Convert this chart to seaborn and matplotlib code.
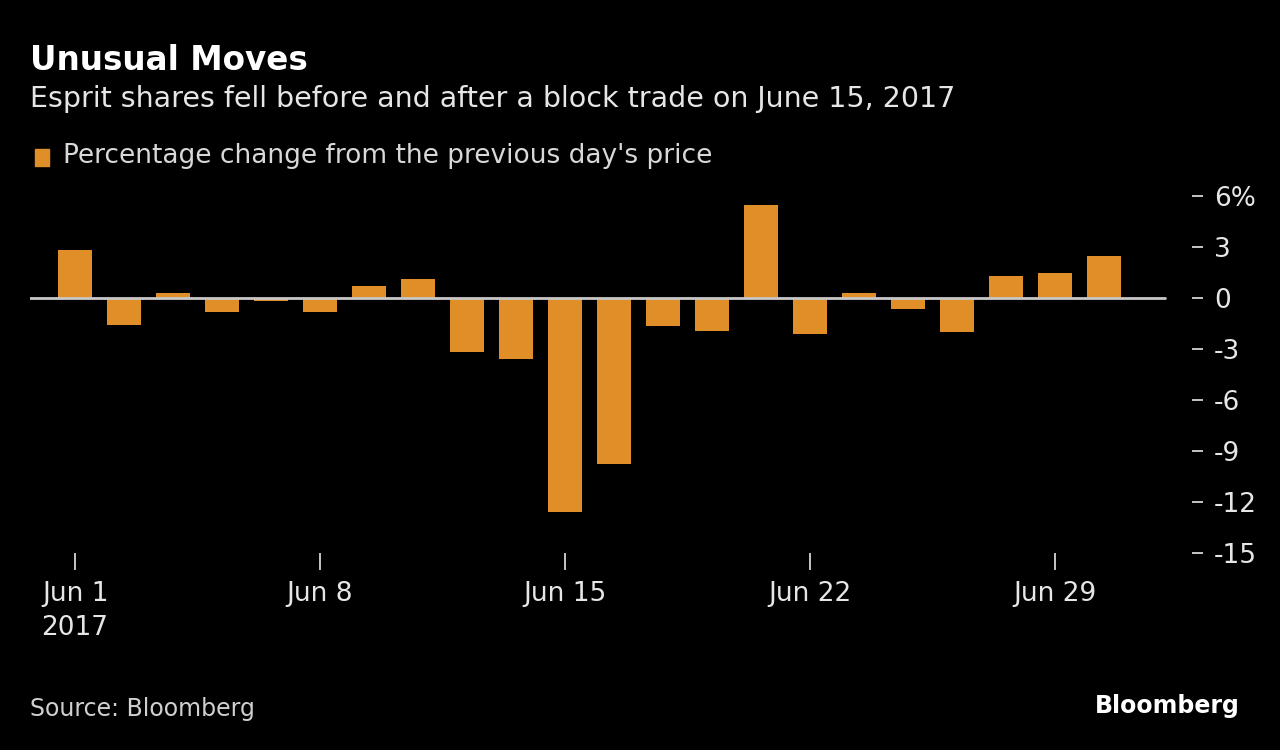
import pandas as pd
import numpy as np
import seaborn as sns
import matplotlib.pyplot as plt
from matplotlib.patches import Rectangle

# trading days in June 2017 (HK)
days = [1, 2, 5, 6, 7, 8, 9, 12, 13, 14, 15, 16, 19, 20, 21, 22, 23, 26, 27, 28, 29, 30]
pct_change = [2.8, -1.6, 0.3, -0.8, -0.15, -0.85, 0.7, 1.1, -3.2, -3.6, -12.6, -9.75,
              -1.65, -1.95, 5.5, -2.1, 0.3, -0.65, -2.0, 1.3, 1.5, 2.45]
tick_days = [1, 8, 15, 22, 29]
tick_labels = ["Jun 1\n2017", "Jun 8", "Jun 15", "Jun 22", "Jun 29"]
y_ticks = [6, 3, 0, -3, -6, -9, -12, -15]
y_labels = ["6%", "3", "0", "-3", "-6", "-9", "-12", "-15"]

df = pd.DataFrame({"day": [f"Jun {d}" for d in days], "pct": pct_change})

sns.set_theme(style="dark")
plt.rcParams['font.family'] = ['DejaVu Sans']

bg = "#000000"
bar_color = "#E08E27"
txt = "#E6E6E6"

fig = plt.figure(figsize=(12.8, 7.5), dpi=100, facecolor=bg)
ax = fig.add_axes([30 / 1280, 1 - 553 / 750, 1162 / 1280, 357 / 750])
ax.set_facecolor(bg)

sns.barplot(data=df, x="day", y="pct", color=bar_color, saturation=1, width=0.7,
            edgecolor="none", linewidth=0, ax=ax)

ax.set_xlim(-0.92, 22.8)
ax.set_ylim(-15, 6)
ax.axhline(0, xmax=0.977, color="#C8C8C8", lw=2, zorder=3)

ax.set_xticks([days.index(d) for d in tick_days])
ax.set_xticklabels(tick_labels, color=txt, fontsize=19, linespacing=1.4)
ax.set_yticks(y_ticks)
ax.set_yticklabels(y_labels, color=txt, fontsize=19)
ax.yaxis.tick_right()
ax.tick_params(axis="y", length=8, width=1.2, color=txt, direction="out", pad=8, right=True)
ax.tick_params(axis="x", length=12, width=1.2, color=txt, direction="out", pad=8, bottom=True)
for lab in ax.get_yticklabels():
    lab.set_horizontalalignment("left")
ax.set_xlabel("")
ax.set_ylabel("")
ax.grid(False)
for s in ax.spines.values():
    s.set_visible(False)

fig.text(30 / 1280, 1 - 61 / 750, "Unusual Moves", color="white", fontsize=23.5,
         fontweight="bold", va="center", ha="left")
fig.text(30 / 1280, 1 - 99 / 750, "Esprit shares fell before and after a block trade on June 15, 2017",
         color=txt, fontsize=20.5, va="center", ha="left")
fig.patches.append(Rectangle((35 / 1280, 1 - 166 / 750), 14 / 1280, 17 / 750,
                             transform=fig.transFigure, color=bar_color))
fig.text(63 / 1280, 1 - 156 / 750, "Percentage change from the previous day's price",
         color="#D8D8D8", fontsize=19, va="center", ha="left")
fig.text(30 / 1280, 1 - 709 / 750, "Source: Bloomberg", color="#D0D0D0", fontsize=17,
         va="center", ha="left")
fig.text(1240 / 1280, 1 - 706 / 750, "Bloomberg", color="white", fontsize=17,
         fontweight="bold", va="center", ha="right")

fig.savefig("out.png", dpi=100, facecolor=bg)
